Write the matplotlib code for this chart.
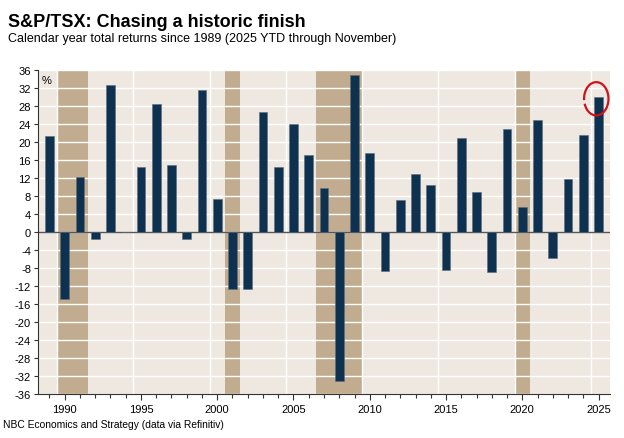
import matplotlib
matplotlib.use("Agg")
import matplotlib.pyplot as plt
from matplotlib.patches import Arc
import numpy as np

plt.rcParams['font.family'] = ['Liberation Sans', 'DejaVu Sans']

years = list(range(1989, 2026))
returns = [21.4, -14.9, 12.2, -1.5, 32.6, 0.0, 14.5, 28.4, 14.9, -1.6,
           31.6, 7.4, -12.7, -12.6, 26.7, 14.5, 24.1, 17.2, 9.8, -33.2,
           35.0, 17.5, -8.7, 7.2, 12.9, 10.4, -8.4, 21.0, 9.0, -8.9,
           22.8, 5.6, 25.0, -5.8, 11.7, 21.6, 29.9]
recessions = [(1989.5, 1991.5), (2000.5, 2001.5), (2006.5, 2009.5), (2019.5, 2020.5)]
yticks = list(range(-36, 37, 4))
xticks_major = [1990, 1995, 2000, 2005, 2010, 2015, 2020, 2025]

title = "S&P/TSX: Chasing a historic finish"
subtitle = "Calendar year total returns since 1989 (2025 YTD through November)"
source = "NBC Economics and Strategy (data via Refinitiv)"

bg = '#efe8e1'
shade = '#c2ac8f'
bar_c = '#0e3150'

fig = plt.figure(figsize=(6.24, 4.39), dpi=100)
ax = fig.add_axes([38/624, 1-395/439, (610-38)/624, (395-71)/439])
ax.set_facecolor(bg)

for a, b in recessions:
    ax.axvspan(a, b, color=shade, lw=0, zorder=0.5)

for v in np.arange(1989.5, 2026, 5):
    ax.axvline(v, color='white', lw=1.0, zorder=0.6)
for t in yticks:
    ax.axhline(t, color='white', lw=1.0, zorder=0.6)

ax.axhline(0, color='#555555', lw=1.0, zorder=1)
ax.bar(years, returns, width=0.58, color=bar_c, edgecolor='#5a6e80', linewidth=0.4, zorder=2)

ax.set_xlim(1988.25, 2025.75)
ax.set_ylim(-36, 36)
ax.set_yticks(yticks)
ax.set_yticklabels([str(t) for t in yticks])
ax.set_xticks(xticks_major)
ax.set_xticks(years, minor=True)
ax.tick_params(axis='both', which='both', direction='out', length=3, width=0.8,
               color='#333333', labelsize=8, pad=2)
ax.tick_params(axis='x', which='major', length=4, pad=3)

for s in ['top', 'right']:
    ax.spines[s].set_visible(False)
for s in ['left', 'bottom']:
    ax.spines[s].set_color('#333333')
    ax.spines[s].set_linewidth(0.8)

ax.text(0.006, 0.985, '%', transform=ax.transAxes, fontsize=8, va='top', ha='left')

# red highlight circle around 2025
arc = Arc((2024.85, 29.6), width=1.6, height=7.4, theta1=235, theta2=560,
          color='#d0121b', lw=1.6, clip_on=False, zorder=3)
ax.add_patch(arc)

fig.text(8/624, 1-27/439, title, fontsize=13, fontweight='bold', va='baseline', ha='left')
fig.text(8/624, 1-42/439, subtitle, fontsize=9, va='baseline', ha='left')
fig.text(3/624, 1-428/439, source, fontsize=7.4, va='baseline', ha='left')

fig.savefig('out.png', dpi=100, facecolor='white')
